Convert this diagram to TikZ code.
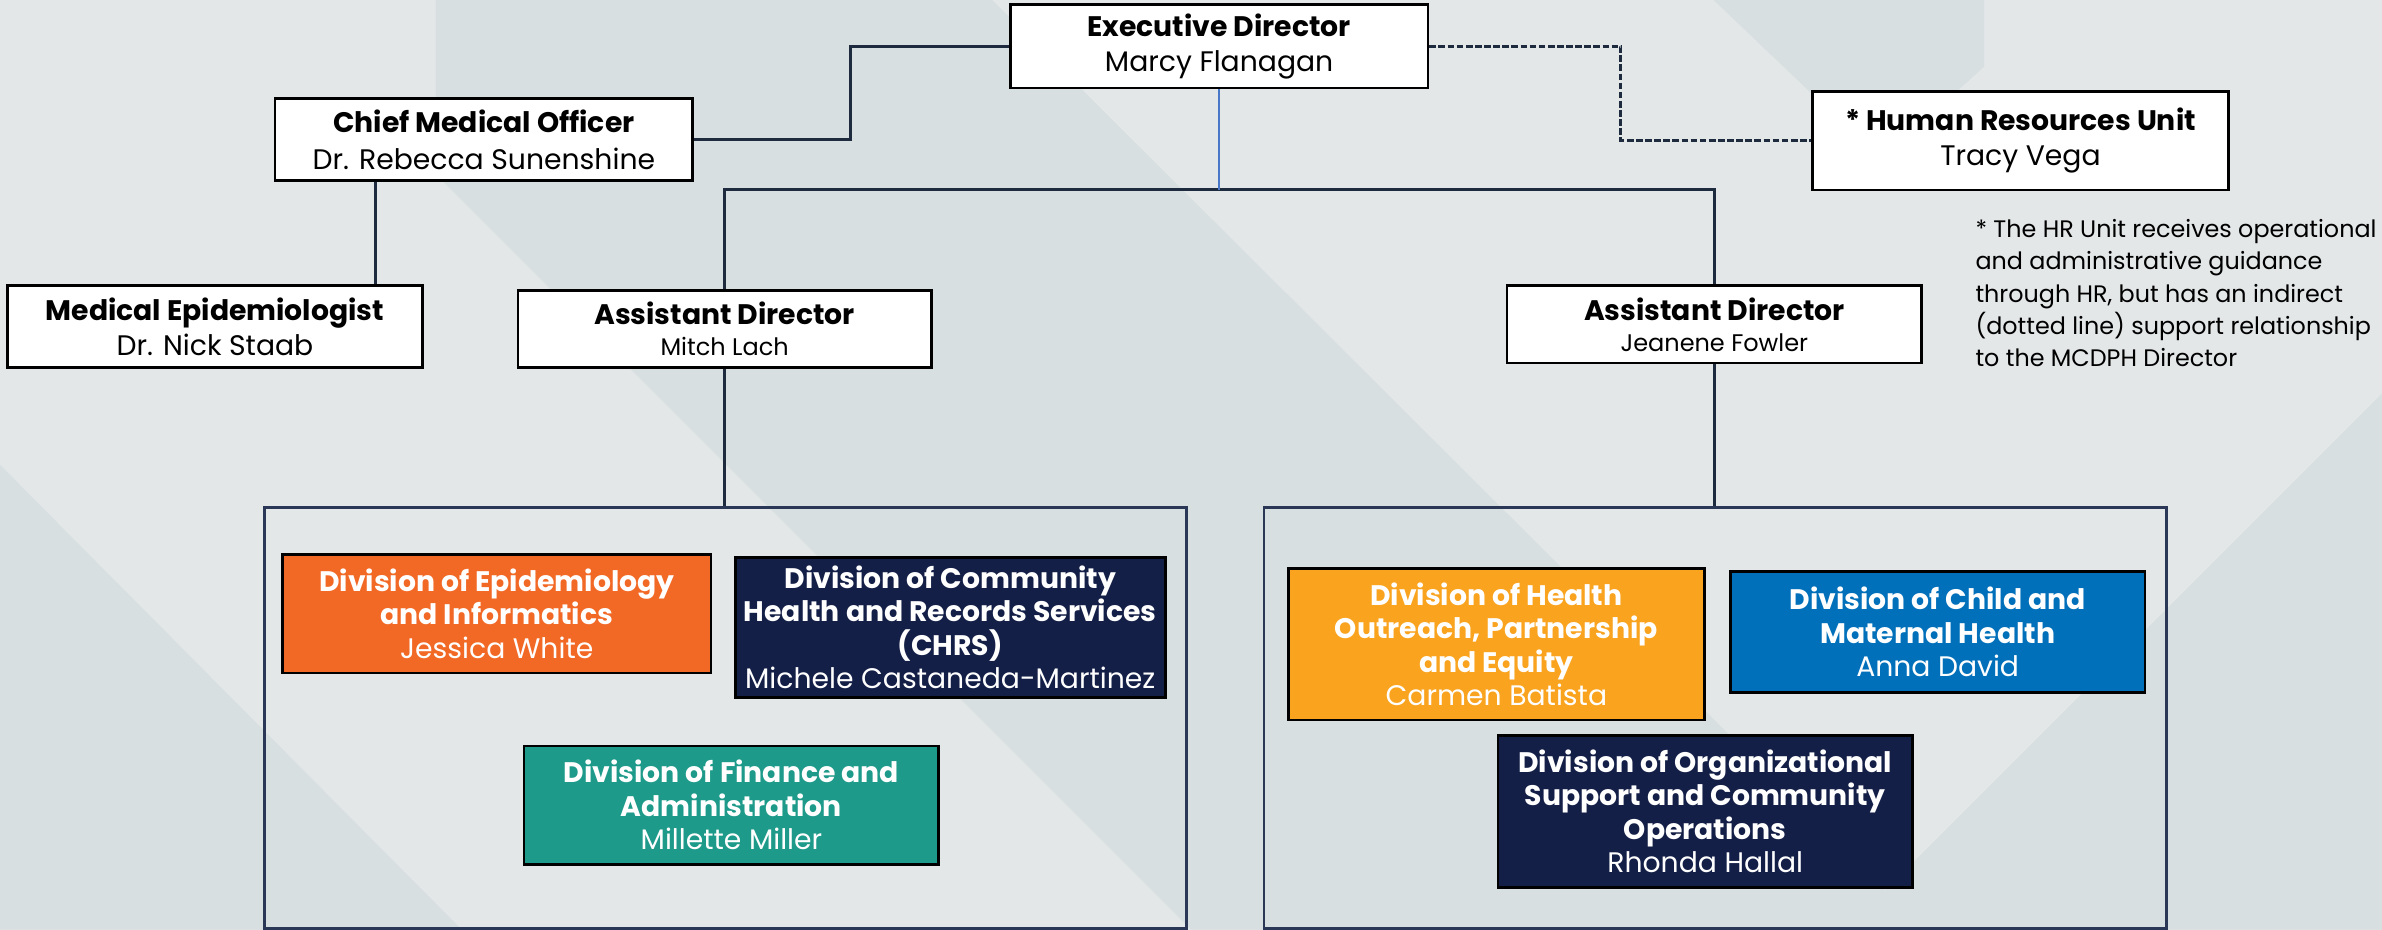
\documentclass[tikz,border=0pt]{standalone}
\usepackage{fontspec}
\setmainfont{Poppins}
\definecolor{bglight}{HTML}{E3E7E8}
\definecolor{bgdark}{HTML}{D7DFE1}
\definecolor{linec}{HTML}{1E2A3D}
\definecolor{bluel}{HTML}{4A78C8}
\definecolor{contc}{HTML}{2A3756}
\definecolor{orangec}{HTML}{F26926}
\definecolor{navyc}{HTML}{141F47}
\definecolor{tealc}{HTML}{1E9A8A}
\definecolor{yellowc}{HTML}{F9A31E}
\definecolor{bluec}{HTML}{0070BA}
\tikzset{
  wbox/.style={draw=black, line width=0.9pt, fill=white, inner sep=0pt, align=center, text=black,
    font=\fontsize{9.3}{11.4}\selectfont},
  dbox/.style={draw=black, line width=0.9pt, inner sep=0pt, align=center, text=white,
    font=\fontsize{9.3}{11}\selectfont},
  cont/.style={draw=contc, line width=0.9pt, inner sep=0pt},
  conn/.style={draw=linec, line width=1pt},
  blueconn/.style={draw=bluel, line width=0.7pt},
}
\begin{document}
\begin{tikzpicture}[x=0.5pt,y=-0.5pt]
\useasboundingbox (0,0) rectangle (1568,612);
% background
\fill[bglight] (0,0) rectangle (1568,612);
\fill[bgdark] (287,0) -- (653,0) -- (1241,586) -- (1568,259) -- (1568,612) -- (784,612) -- (287,115) -- cycle;
\fill[bgdark] (0,306) -- (304,612) -- (0,612) -- cycle;
\fill[bgdark] (1128,0) -- (1306,0) -- (1306,44) -- (1238,105) -- cycle;

% containers
\node[cont, minimum width=303.5pt, minimum height=138.5pt] (leftc) at (477.5,472.5) {};
\node[cont, minimum width=297pt, minimum height=138.5pt] (rightc) at (1129,472.5) {};

% top boxes
\node[wbox, minimum width=137.5pt, minimum height=27.5pt] (exec) at (802.5,30.5)
  {\textbf{Executive Director}\\Marcy Flanagan};
\node[wbox, minimum width=137.5pt, minimum height=27pt] (cmo) at (318.5,92)
  {\raisebox{1pt}{\textbf{Chief Medical Officer}}\\[-0.5pt]Dr. Rebecca Sunenshine};
\node[wbox, minimum width=137pt, minimum height=32.5pt] (hr) at (1330,92.5)
  {\textbf{* Human Resources Unit}\\Tracy Vega};
\node[wbox, minimum width=136.5pt, minimum height=27pt] (medepi) at (141.5,215)
  {\textbf{Medical Epidemiologist}\\Dr. Nick Staab};
\node[wbox, minimum width=136pt, minimum height=25.5pt] (mitch) at (477,216.5)
  {\textbf{Assistant Director}\\[-1.2pt]{\fontsize{7.9}{9}\selectfont Mitch Lach}};
\node[wbox, minimum width=136.5pt, minimum height=25.5pt] (jeanene) at (1128.5,213.5)
  {\textbf{Assistant Director}\\[-1.2pt]{\fontsize{7.9}{9}\selectfont Jeanene Fowler}};

% note
\node[anchor=north west, align=left, inner sep=0pt, font=\fontsize{7.85}{10.65}\selectfont] (note) at (1300,144)
  {* The HR Unit receives operational\\and administrative guidance\\through HR, but has an indirect\\(dotted line) support relationship\\to the MCDPH Director};

% division boxes
\node[dbox, fill=orangec, minimum width=141pt, minimum height=39pt] (epi) at (327,404)
  {\textbf{Division of Epidemiology}\\\textbf{and Informatics}\\Jessica White};
\node[dbox, fill=navyc, minimum width=141.5pt, minimum height=46pt] (chrs) at (625.5,413)
  {\textbf{Division of Community}\\\textbf{Health and Records Services}\\\textbf{(CHRS)}\\Michele Castaneda-Martinez};
\node[dbox, fill=tealc, minimum width=136.5pt, minimum height=39pt] (fin) at (481.5,530)
  {\textbf{Division of Finance and}\\\textbf{Administration}\\Millette Miller};
\node[dbox, fill=yellowc, minimum width=137pt, minimum height=50pt] (outreach) at (985,424)
  {\textbf{Division of Health}\\\textbf{Outreach, Partnership}\\\textbf{and Equity}\\Carmen Batista};
\node[dbox, fill=bluec, minimum width=136.5pt, minimum height=40pt] (child) at (1275.5,416)
  {\textbf{Division of Child and}\\\textbf{Maternal Health}\\Anna David};
\node[dbox, fill=navyc, minimum width=136.5pt, minimum height=50pt] (org) at (1122.5,534)
  {\textbf{Division of Organizational}\\\textbf{Support and Community}\\\textbf{Operations}\\Rhonda Hallal};

% connectors
\coordinate (j1) at (560,0);
\coordinate (j2) at (1067,0);
\coordinate (j3) at (247,0);
\coordinate (bus) at (802.5,125);
\draw[conn] (exec.west) -| (j1 |- cmo.east) -- (cmo.east);
\draw[conn, dash pattern=on 2.2pt off 0.8pt] (exec.east) -| (j2 |- hr.west) -- (hr.west);
\draw[conn] (cmo.south -| j3) -- (j3 |- medepi.north);
\draw[conn] (mitch.north) |- (bus) -| (jeanene.north);
\draw[blueconn] (exec.south) -- (bus);
\draw[conn] (mitch.south) -- (mitch.south |- leftc.north);
\draw[conn] (jeanene.south) -- (jeanene.south |- rightc.north);
\end{tikzpicture}
\end{document}
